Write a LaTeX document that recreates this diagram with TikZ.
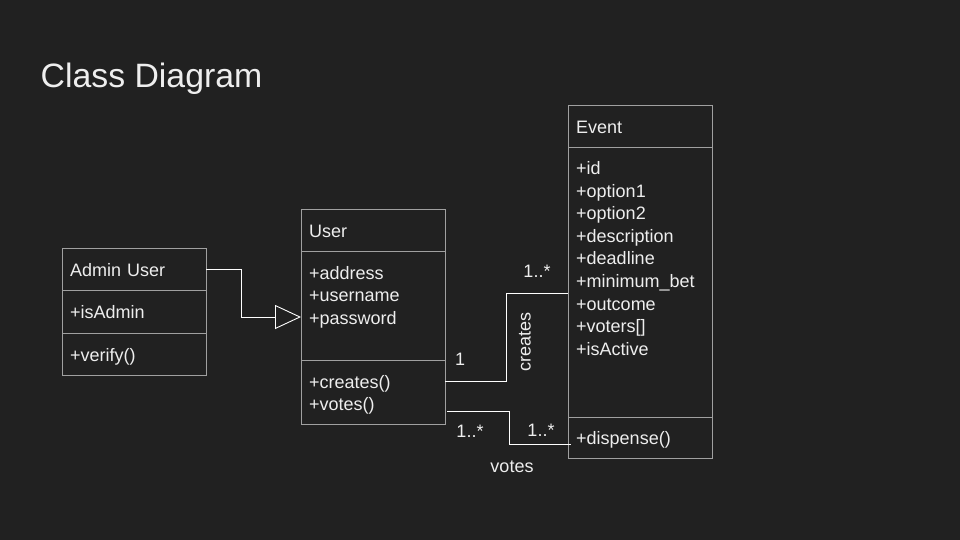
\documentclass[tikz,border=0pt]{standalone}
\usepackage{fontspec}
\setmainfont{Liberation Sans}
\usepackage{tikz}
\usetikzlibrary{arrows.meta,positioning,calc}
\definecolor{bgdark}{HTML}{212121}
\definecolor{boxline}{HTML}{A0A0A0}
\definecolor{inkwhite}{HTML}{EEEEEE}

\tikzset{
  compart/.style={draw=boxline, line width=1pt, minimum width=144pt,
    anchor=north west, inner sep=0pt, outer sep=0pt},
  member/.style={anchor=base west, inner sep=0pt, text=inkwhite,
    font=\fontsize{18}{22.5}\selectfont, align=left, text width=135pt},
  wire/.style={draw=white, line width=0.9pt},
  mult/.style={text=inkwhite, font=\fontsize{18}{22}\selectfont, inner sep=0pt},
}

\begin{document}
\begin{tikzpicture}[x=1pt, y=-1pt, >=Stealth]
  % Background (fixes the page size)
  \fill[bgdark] (0,0) rectangle (960,540);
  \useasboundingbox (0,0) rectangle (960,540);

  % Title
  \node[anchor=base west, inner sep=0pt, text=inkwhite,
    font=\fontsize{33.8}{40}\selectfont] (title) at (40.5,88) {Class Diagram};

  % Admin User class
  \node[compart, minimum height=42pt] (adminhead) at (62,248) {};
  \node[compart, minimum height=43pt] (adminattr) at (adminhead.south west) {};
  \node[compart, minimum height=42pt] (adminops) at (adminattr.south west) {};
  \node[member] (adminname) at ($(adminhead.north west)+(8,28)$) {Admin User};
  \node[member] (adminattrtxt) at ($(adminattr.north west)+(8,28)$) {+isAdmin};
  \node[member] (adminopstxt) at ($(adminops.north west)+(8,28)$) {+verify()};

  % User class
  \node[compart, minimum height=42pt] (userhead) at (301,209) {};
  \node[compart, minimum height=109pt] (userattr) at (userhead.south west) {};
  \node[compart, minimum height=64pt] (userops) at (userattr.south west) {};
  \node[member] (username) at ($(userhead.north west)+(8,28)$) {User};
  \node[member] (userattrtxt) at ($(userattr.north west)+(8,28)$)
    {+address\\+username\\+password};
  \node[member] (useropstxt) at ($(userops.north west)+(8,28)$)
    {+creates()\\+votes()};

  % Event class
  \node[compart, minimum height=42pt] (eventhead) at (568,106) {};
  \node[compart, minimum height=269pt] (eventattr) at (eventhead.south west) {};
  \node[compart, minimum height=41pt] (eventops) at (eventattr.south west) {};
  \node[member] (eventname) at ($(eventhead.north west)+(8,28)$) {Event};
  \node[member] (eventattrtxt) at ($(eventattr.north west)+(8,27)$)
    {+id\\+option1\\+option2\\+description\\+deadline\\+minimum\_bet\\+outcome\\+voters[]\\+isActive};
  \node[member] (eventopstxt) at ($(eventops.north west)+(8,27)$) {+dispense()};

  % Inheritance: Admin User -> User
  \draw[wire, -{Triangle[open, length=26pt, width=24pt]}]
    (adminhead.east) -- ++(35,0) |- ($(userattr.north west)+(0,66)$);

  % Association: creates
  \draw[wire] ($(userops.north east)+(0,21)$) -- ++(61,0)
    |- ($(eventattr.north west)+(0,145)$);
  \node[mult] (crone) at (460,359) {1};
  \node[mult] (crmany) at (537,271) {1..*};
  \node[mult, rotate=90] (crname) at (525,342) {creates};

  % Association: votes
  \draw[wire] ($(userops.north east)+(2,51)$) -- ++(62,0)
    |- ($(eventops.north west)+(3,27)$);
  \node[mult] (vtuser) at (470,431) {1..*};
  \node[mult] (vtevent) at (541,430) {1..*};
  \node[mult] (vtname) at (512,467) {votes};
\end{tikzpicture}
\end{document}
